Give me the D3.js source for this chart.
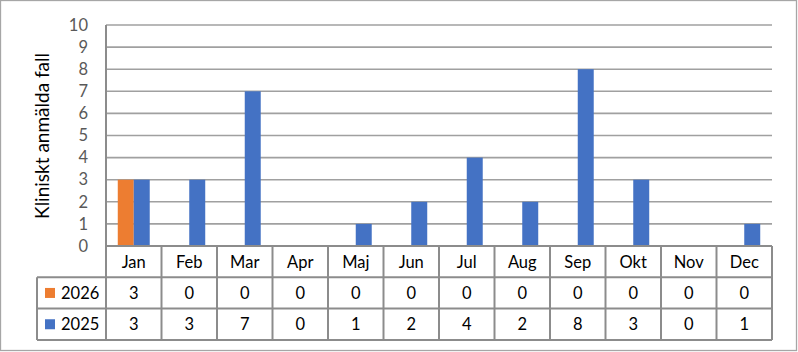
<!DOCTYPE html>
<html>
<head>
<meta charset="utf-8">
<script src="https://cdn.jsdelivr.net/npm/d3@7"></script>
<style>
  body { margin: 0; background: #fff; }
  svg { display: block; font-family: "Lato", "Noto Sans", sans-serif; }
</style>
</head>
<body>
<svg id="chart-svg" width="798" height="352"></svg>
<script>
const months = ["Jan", "Feb", "Mar", "Apr", "Maj", "Jun", "Jul", "Aug", "Sep", "Okt", "Nov", "Dec"];
const seriesNames = ["2026", "2025"];
const values2026 = [3, 0, 0, 0, 0, 0, 0, 0, 0, 0, 0, 0];
const values2025 = [3, 3, 7, 0, 1, 2, 4, 2, 8, 3, 0, 1];
const yTicks = [0, 1, 2, 3, 4, 5, 6, 7, 8, 9, 10];
const colors = { "2026": "#ED7D31", "2025": "#4472C4" };

const size = {
    width: 798,
    height: 352,
    left: 106,
    right: 772,
    top: 25,
    zero: 246,
    rowH: 31.3,
    legendLeft: 37
};
const svg = d3.select("#chart-svg");
const seriesValues = { "2026": values2026, "2025": values2025 };

// outer frame
svg.append("rect")
    .attr("x", 0.5).attr("y", 0.5)
    .attr("width", 796).attr("height", 350)
    .attr("fill", "#fff")
    .attr("stroke", "#a6a6a6")
    .attr("stroke-width", 1.3);

const xScale = d3.scaleBand()
    .domain(months)
    .range([size.left, size.right]);

const bw = xScale.bandwidth();
const xInner = d3.scaleBand()
    .domain(seriesNames)
    .range([bw * 0.212, bw * 0.788]);

const yScale = d3.scaleLinear()
    .domain([0, 10])
    .range([size.zero, size.top]);

// gridlines
svg.append("g")
    .selectAll("line")
    .data(yTicks.filter(d => d > 0))
    .join("line")
    .attr("x1", size.left).attr("x2", size.right)
    .attr("y1", d => yScale(d)).attr("y2", d => yScale(d))
    .attr("stroke", "#a0a0a0")
    .attr("stroke-width", 1.6);

// y tick labels
const yAxis = svg.append("g")
    .attr("transform", `translate(${size.left}, 0)`)
    .call(d3.axisLeft(yScale).tickValues(yTicks).tickSize(0).tickPadding(18));
yAxis.select(".domain").remove();
yAxis.selectAll("text")
    .attr("font-family", "Lato, 'Noto Sans', sans-serif")
    .attr("font-size", 16.5)
    .attr("fill", "#595959");

// bars
const rows = months.map((m, i) => ({ month: m, "2026": values2026[i], "2025": values2025[i] }));
svg.append("g")
    .selectAll("g")
    .data(rows)
    .join("g")
    .attr("transform", d => `translate(${xScale(d.month)}, 0)`)
    .selectAll("rect")
    .data(d => seriesNames.map(s => ({ key: s, value: d[s] })))
    .join("rect")
    .attr("x", d => xInner(d.key))
    .attr("width", xInner.bandwidth())
    .attr("y", d => yScale(d.value))
    .attr("height", d => yScale(0) - yScale(d.value))
    .attr("fill", d => colors[d.key]);

// data table
const tableColor = "#8c8c8c";
const table = svg.append("g");
const rowTop = [size.zero, size.zero + size.rowH, size.zero + size.rowH * 2, size.zero + size.rowH * 3];

// horizontal lines
table.append("line")
    .attr("x1", size.left).attr("x2", size.right)
    .attr("y1", rowTop[0]).attr("y2", rowTop[0]);
[1, 2, 3].forEach(i => {
    table.append("line")
        .attr("x1", size.legendLeft).attr("x2", size.right)
        .attr("y1", rowTop[i]).attr("y2", rowTop[i]);
});
// vertical lines
table.append("line")
    .attr("x1", size.legendLeft).attr("x2", size.legendLeft)
    .attr("y1", rowTop[1]).attr("y2", rowTop[3]);
table.append("line")
    .attr("x1", size.left).attr("x2", size.left)
    .attr("y1", size.top).attr("y2", rowTop[3]);
months.forEach(m => {
    const x = xScale(m) + bw;
    table.append("line")
        .attr("x1", x).attr("x2", x)
        .attr("y1", rowTop[0]).attr("y2", rowTop[3]);
});
table.selectAll("line")
    .attr("stroke", tableColor)
    .attr("stroke-width", 2);

// month labels
table.append("g")
    .selectAll("text")
    .data(months)
    .join("text")
    .attr("x", d => xScale(d) + bw / 2)
    .attr("y", rowTop[0] + size.rowH / 2)
    .attr("dy", "0.36em")
    .attr("text-anchor", "middle")
    .attr("font-size", 16.5)
    .attr("fill", "#000")
    .text(d => d);

// value cells + legend keys
seriesNames.forEach((s, r) => {
    const yMid = rowTop[r + 1] + size.rowH / 2;
    table.append("g")
        .selectAll("text")
        .data(seriesValues[s])
        .join("text")
        .attr("x", (d, i) => xScale(months[i]) + bw / 2)
        .attr("y", yMid)
        .attr("dy", "0.36em")
        .attr("text-anchor", "middle")
        .attr("font-size", 16.5)
        .attr("fill", "#000")
        .text(d => d);

    table.append("rect")
        .attr("x", 45)
        .attr("y", yMid - 5)
        .attr("width", 10)
        .attr("height", 10)
        .attr("fill", colors[s]);
    table.append("text")
        .attr("x", 61)
        .attr("y", yMid)
        .attr("dy", "0.36em")
        .attr("font-size", 16.5)
        .attr("fill", "#000")
        .text(s);
});

// axis title
svg.append("text")
    .attr("transform", "rotate(-90)")
    .attr("x", -136)
    .attr("y", 42)
    .attr("dy", "0.36em")
    .attr("text-anchor", "middle")
    .attr("font-size", 19)
    .attr("fill", "#000")
    .text("Kliniskt anmälda fall");
</script>
</body>
</html>
